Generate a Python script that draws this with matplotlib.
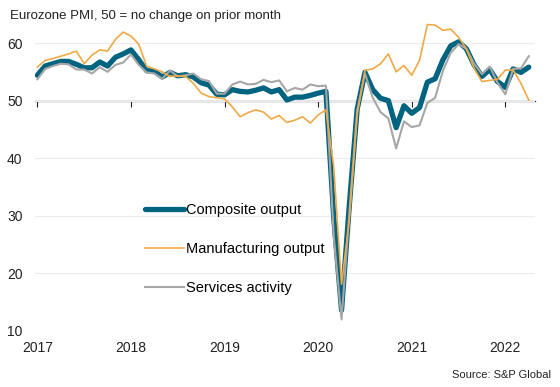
import matplotlib
matplotlib.use("Agg")
import matplotlib.pyplot as plt
import numpy as np

plt.rcParams['font.family'] = ['Liberation Sans', 'DejaVu Sans']

# Monthly data, Jan 2017 .. Apr 2022
composite = [54.4, 56.0, 56.4, 56.8, 56.8, 56.3, 55.7, 55.7, 56.7, 56.0, 57.5, 58.1,
             58.8, 57.1, 55.2, 55.1, 54.1, 54.9, 54.3, 54.5, 54.1, 53.1, 52.7, 51.1,
             51.0, 51.9, 51.6, 51.5, 51.8, 52.2, 51.5, 51.9, 50.1, 50.6, 50.6, 50.9,
             51.3, 51.6, 29.7, 13.6, 31.9, 48.5, 54.9, 51.9, 50.4, 50.0, 45.3, 49.1,
             47.8, 48.8, 53.2, 53.8, 57.1, 59.5, 60.2, 59.0, 56.2, 54.2, 55.4, 53.3,
             52.3, 55.5, 54.9, 55.8]
manufacturing = [55.8, 57.0, 57.3, 57.7, 58.1, 58.6, 56.4, 57.9, 58.8, 58.6, 60.6, 61.9,
                 61.2, 59.8, 56.0, 55.5, 55.0, 54.2, 54.3, 54.2, 53.0, 51.3, 50.7, 50.5,
                 50.3, 48.9, 47.2, 47.9, 48.4, 48.0, 46.8, 47.4, 46.2, 46.6, 47.2, 46.1,
                 47.5, 48.4, 38.5, 18.1, 29.4, 47.5, 55.3, 55.5, 56.4, 58.1, 55.0, 56.1,
                 54.4, 57.0, 63.2, 63.1, 62.2, 62.4, 61.0, 59.0, 55.6, 53.3, 53.5, 53.7,
                 55.3, 55.3, 53.0, 50.1]
services = [53.7, 55.5, 56.0, 56.4, 56.3, 55.4, 55.4, 54.7, 55.8, 55.0, 56.2, 56.6,
            58.0, 56.2, 54.9, 54.7, 53.8, 55.2, 54.2, 54.4, 54.7, 53.7, 53.4, 51.2,
            51.2, 52.8, 53.3, 52.8, 52.9, 53.6, 53.2, 53.5, 51.6, 52.2, 51.9, 52.8,
            52.5, 52.6, 26.4, 12.0, 30.5, 48.3, 54.7, 50.5, 48.0, 46.9, 41.7, 46.4,
            45.4, 45.7, 49.6, 50.5, 55.2, 58.3, 59.8, 59.0, 56.4, 54.6, 55.9, 53.1,
            51.1, 55.5, 55.6, 57.7]
year_labels = ['2017', '2018', '2019', '2020', '2021', '2022']
y_ticks = [10, 20, 30, 40, 50, 60]

x = np.arange(len(composite))
year_pos = np.arange(len(year_labels)) * 12

fig = plt.figure(figsize=(5.6, 3.87), dpi=100)
ax = fig.add_axes([35/560, 56/387, 500/560, 316.8/387])

ax.plot(x, composite, color='#00637f', lw=3.8, solid_capstyle='round',
        solid_joinstyle='round', label='Composite output', zorder=3)
ax.plot(x, manufacturing, color='#f0a946', lw=1.2, label='Manufacturing output', zorder=5)
ax.plot(x, services, color='#a6a6a6', lw=1.5, label='Services activity', zorder=4)

ax.set_xlim(-0.3, 63.8)
ax.set_ylim(10, 65)
ax.set_yticks(y_ticks)
ax.set_xticks(year_pos)
ax.set_xticklabels(year_labels)
ax.tick_params(axis='both', length=0, labelsize=10, colors='#222222')
ax.tick_params(axis='x', pad=7)
ax.tick_params(axis='y', pad=9)
ax.grid(axis='y', color='#ececec', lw=0.8)
ax.set_axisbelow(True)
for s in ax.spines.values():
    s.set_visible(False)

# 50 reference axis with year ticks
sec = ax.secondary_xaxis(50, transform=ax.transData)
sec.set_alignment('bottom')
sec.set_xticks(year_pos)
sec.tick_params(axis='x', direction='out', length=4, width=0.8, color='#222222',
                labelbottom=False, labeltop=False)
for s in sec.spines.values():
    s.set_color('#222222')
    s.set_linewidth(0.9)

leg = ax.legend(loc='upper left', bbox_to_anchor=(145/560, 1 - 203/387),
                bbox_transform=fig.transFigure, frameon=False, fontsize=10.5,
                handlelength=2.7, handletextpad=0.1, labelspacing=1.72,
                borderpad=0, borderaxespad=0)

fig.text(10/560, 1 - 16/387, 'Eurozone PMI, 50 = no change on prior month',
         ha='left', va='center', fontsize=9.5, color='#222222')
fig.text(551/560, 1 - 375/387, 'Source: S&P Global', ha='right', va='center',
         fontsize=8, color='#222222')

fig.savefig('out.png', dpi=100)
